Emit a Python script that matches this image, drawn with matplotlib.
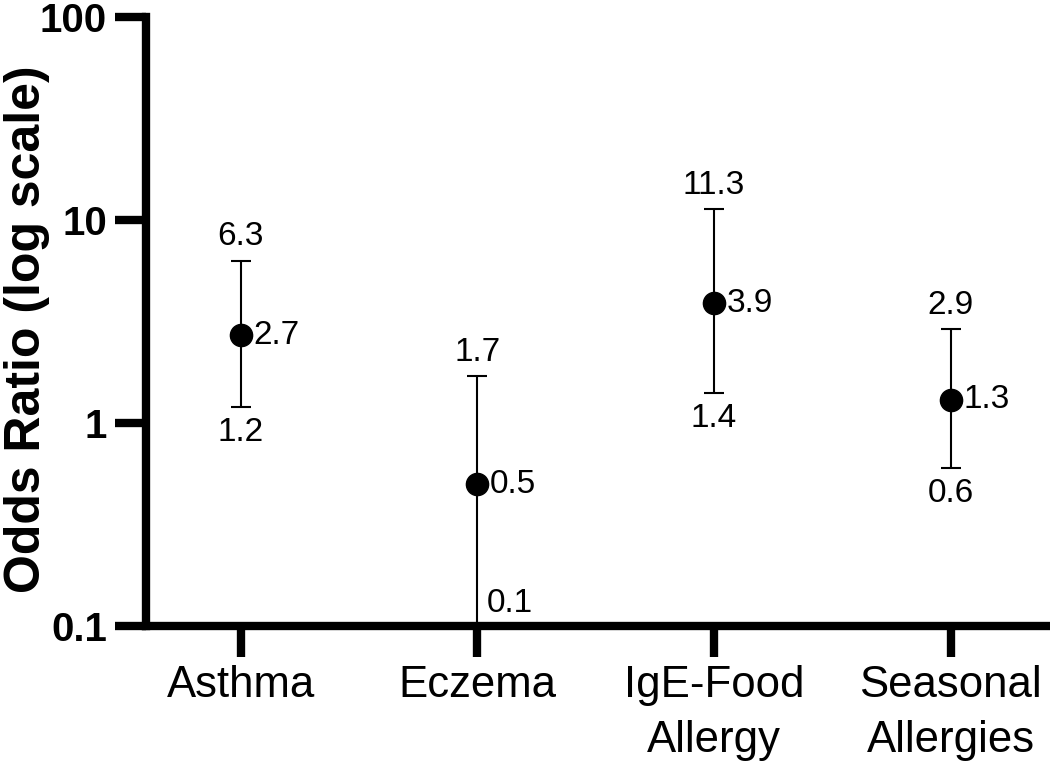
import matplotlib
matplotlib.use("Agg")
import matplotlib.pyplot as plt
from matplotlib.ticker import FixedLocator, FixedFormatter, NullLocator

categories = ['Asthma', 'Eczema', 'IgE-Food\nAllergy', 'Seasonal\nAllergies']
odds = [2.7, 0.5, 3.9, 1.3]
lower = [1.2, 0.1, 1.4, 0.6]
upper = [6.3, 1.7, 11.3, 2.9]
ytick_vals = [0.1, 1, 10, 100]
ytick_labels = ['0.1', '1', '10', '100']

plt.rcParams['font.family'] = ['Liberation Sans', 'DejaVu Sans']

fig = plt.figure(figsize=(10.5, 7.75), dpi=100)
ax = fig.add_axes([0.139, 0.1923, 0.861, 0.7857])

x = list(range(len(categories)))
yerr = [[o - l for o, l in zip(odds, lower)], [u - o for o, u in zip(odds, upper)]]
ax.errorbar(x, odds, yerr=yerr, fmt='o', color='black', markersize=16,
            elinewidth=1.5, capsize=7, capthick=1.5, zorder=2)

ax.set_yscale('log')
ax.set_ylim(0.1, 100)
ax.set_xlim(-0.40, 3.42)

fs_ann = 24
for xi, o, l, u in zip(x, odds, lower, upper):
    ax.annotate(f'{u:g}', (xi, u), xytext=(0, 6), textcoords='offset points',
                ha='center', va='bottom', fontsize=fs_ann)
    ax.annotate(f'{o:g}', (xi, o), xytext=(9, 0), textcoords='offset points',
                ha='left', va='center', fontsize=fs_ann)
    if l <= 0.1:
        ax.annotate(f'{l:g}', (xi, l), xytext=(7, 5), textcoords='offset points',
                    ha='left', va='bottom', fontsize=fs_ann)
    else:
        ax.annotate(f'{l:g}', (xi, l), xytext=(0, -7), textcoords='offset points',
                    ha='center', va='top', fontsize=fs_ann)

ax.yaxis.set_major_locator(FixedLocator(ytick_vals))
ax.yaxis.set_major_formatter(FixedFormatter(ytick_labels))
ax.yaxis.set_minor_locator(NullLocator())
for lbl in ax.get_yticklabels():
    lbl.set_fontweight('bold')
    lbl.set_fontsize(29)

ax.set_xticks(x)
ax.set_xticklabels(categories, fontsize=31.5, linespacing=1.45)

for side in ['top', 'right']:
    ax.spines[side].set_visible(False)
for side in ['left', 'bottom']:
    ax.spines[side].set_linewidth(6)
    ax.spines[side].set_capstyle('projecting')

ax.tick_params(axis='both', which='major', length=22, width=6, direction='out', pad=6)
ax.set_ylabel('Odds Ratio (log scale)', fontsize=36, fontweight='bold')
ax.yaxis.set_label_coords(-0.106, 0.488)

fig.savefig('out.png', dpi=100)
